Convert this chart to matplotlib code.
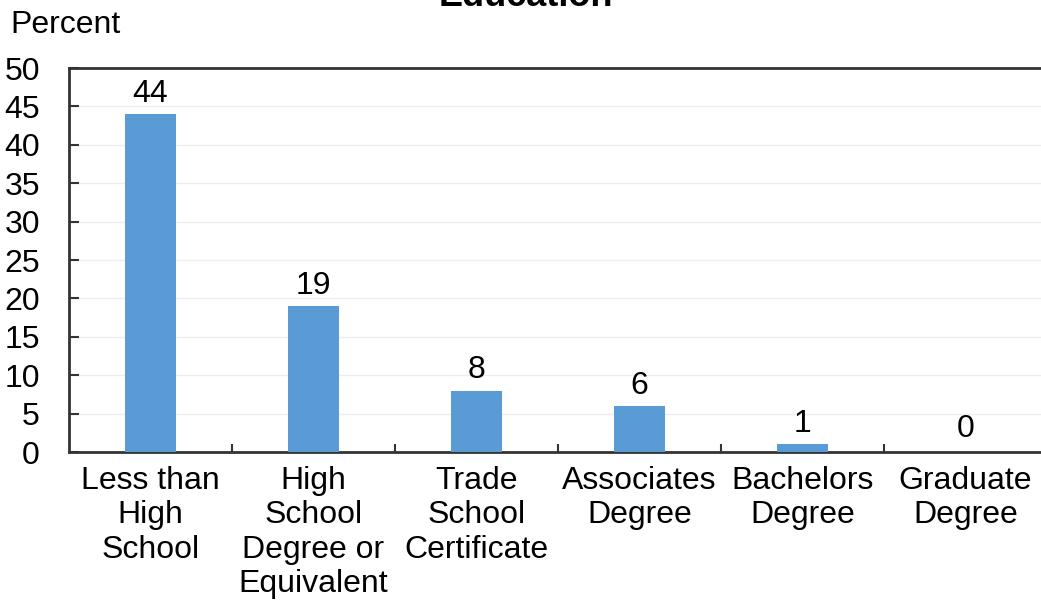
import matplotlib.pyplot as plt
from matplotlib.ticker import FixedLocator

# data
categories = ["Less than\nHigh\nSchool", "High\nSchool\nDegree or\nEquivalent",
              "Trade\nSchool\nCertificate", "Associates\nDegree",
              "Bachelors\nDegree", "Graduate\nDegree"]
percent = [44, 19, 8, 6, 1, 0]
y_ticks = [0, 5, 10, 15, 20, 25, 30, 35, 40, 45, 50]

plt.rcParams['font.family'] = ['Liberation Sans', 'DejaVu Sans']
FS = 23

W, H = 1041, 607
fig = plt.figure(figsize=(W / 100, H / 100), dpi=100)
# plot area in pixels: left 69, right ~1047 (runs off the edge), top 68, bottom 452
ax = fig.add_axes([69 / W, (H - 452) / H, (1047 - 69) / W, (452 - 68) / H])

x = list(range(len(categories)))
ax.bar(x, percent, width=0.31, color="#5B9BD5", zorder=3)
for xi, v in zip(x, percent):
    # labels sit just above the bar, but never lower than a small floor
    ax.text(xi, max(v + 1.6, 1.95), str(v), ha="center", va="baseline", fontsize=FS)

ax.set_xlim(-0.5, len(categories) - 0.5)
ax.set_ylim(0, 50)
ax.set_yticks(y_ticks)
ax.set_xticks(x)
ax.set_xticklabels(categories, fontsize=FS, linespacing=1.19)
ax.tick_params(axis="x", length=0, pad=10)
ax.xaxis.set_minor_locator(FixedLocator([i + 0.5 for i in x[:-1]]))
ax.tick_params(axis="x", which="minor", direction="in", length=6, width=1.5, color="#333333")
ax.tick_params(axis="y", direction="in", length=7, width=1.5, color="#333333",
               labelsize=FS, pad=21)

ax.grid(axis="y", color="#EDEDED", linewidth=1, zorder=0)
for side in ["left", "bottom", "top", "right"]:
    ax.spines[side].set_linewidth(2)
    ax.spines[side].set_color("#333333")

fig.text(10 / W, 1 - 25 / H, "Percent", fontsize=FS, va="center", ha="left")
fig.text(0.505, 1 - 6 / H, "Education", fontsize=26, fontweight="bold",
         ha="center", va="baseline")

fig.savefig("out.png", dpi=100)
